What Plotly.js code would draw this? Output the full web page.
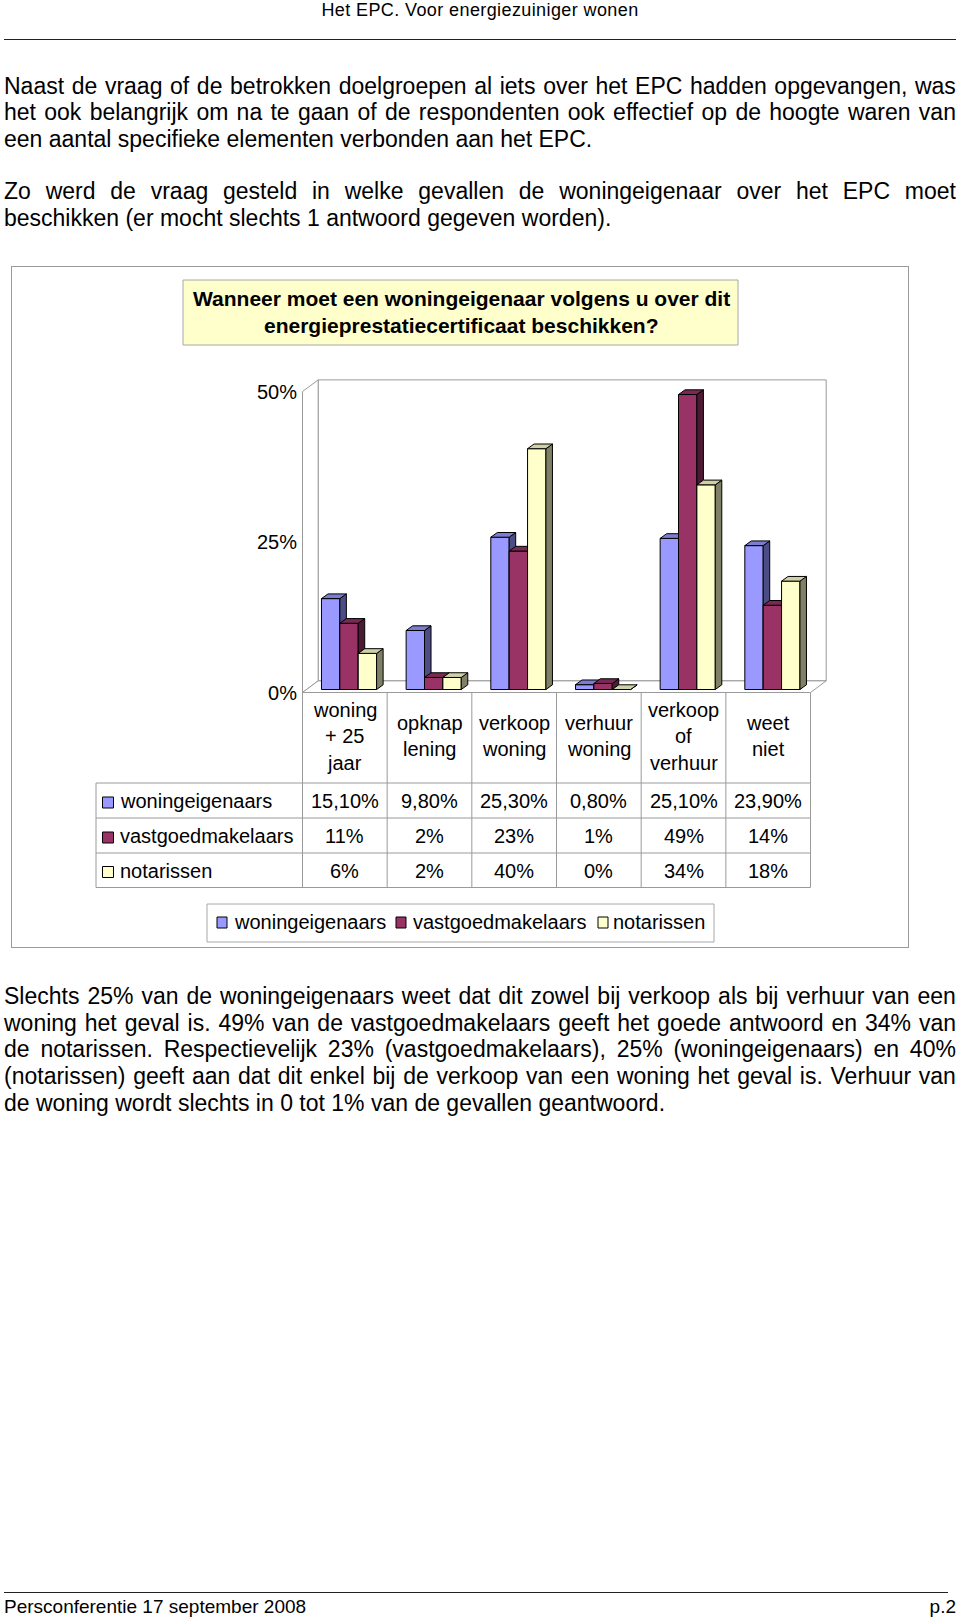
<!DOCTYPE html>
<html>
<head>
<meta charset="utf-8">
<script src="https://cdn.plot.ly/plotly-3.0.1.min.js"></script>
<style>
  html, body { margin: 0; padding: 0; background: #ffffff; }
  body { font-family: "Liberation Sans", Arial, Helvetica, sans-serif; color: #000; }
  #page { position: relative; width: 960px; height: 1622px; overflow: hidden; background: #fff; }
  .hdr { position: absolute; left: 0; top: 0; width: 960px; height: 20px; line-height: 20px; text-align: center; font-size: 18px; letter-spacing: 0.4px; }
  .rule { position: absolute; height: 0; border-top: 1px solid #222; }
  .line { position: absolute; left: 4px; width: 952px; height: 27px; line-height: 27px; font-size: 23px; white-space: nowrap; }
  .just { display: flex; justify-content: space-between; }
  .foot { position: absolute; top: 1596px; height: 22px; line-height: 22px; font-size: 19px; white-space: nowrap; }
  #frame { position: absolute; left: 11px; top: 266px; width: 896px; height: 680px; border: 1px solid #9a9a9a; }
  #chart { position: absolute; left: 11px; top: 266px; width: 898px; height: 682px; }
</style>
</head>
<body>
<div id="page">
  <div class="hdr">Het EPC. Voor energiezuiniger wonen</div>
  <div class="rule" style="left:4px;width:952px;top:39px;"></div>
  <div id="text"></div>
  <div id="frame"></div>
  <div id="chart"></div>
  <div class="rule" style="left:4px;width:944px;top:1592px;"></div>
  <div class="foot" style="left:4px;">Persconferentie 17 september 2008</div>
  <div class="foot" style="right:4px;">p.2</div>
</div>
<script>
// ---------------- data ----------------
const categories = [["woning", "+ 25", "jaar"], ["opknap", "lening"], ["verkoop", "woning"], ["verhuur", "woning"], ["verkoop", "of", "verhuur"], ["weet", "niet"]];
const seriesNames = ["woningeigenaars", "vastgoedmakelaars", "notarissen"];
const woningeigenaars = [15.1, 9.8, 25.3, 0.8, 25.1, 23.9];
const vastgoedmakelaars = [11, 2, 23, 1, 49, 14];
const notarissen = [6, 2, 40, 0, 34, 18];
const tableDecimals = [2, 0, 0];
const yTickValues = [0, 25, 50];
const chartTitleLines = ["Wanneer moet een woningeigenaar volgens u over dit", "energieprestatiecertificaat beschikken?"];

// ---------------- page text ----------------
const paragraphs = [
  { centers: [86, 112, 139], lines: [
    "Naast de vraag of de betrokken doelgroepen al iets over het EPC hadden opgevangen, was",
    "het ook belangrijk om na te gaan of de respondenten ook effectief op de hoogte waren van",
    "een aantal specifieke elementen verbonden aan het EPC."] },
  { centers: [191, 218], lines: [
    "Zo werd de vraag gesteld in welke gevallen de woningeigenaar over het EPC moet",
    "beschikken (er mocht slechts 1 antwoord gegeven worden)."] },
  { centers: [996, 1023, 1049, 1076, 1103], lines: [
    "Slechts 25% van de woningeigenaars weet dat dit zowel bij verkoop als bij verhuur van een",
    "woning het geval is. 49% van de vastgoedmakelaars geeft het goede antwoord en 34% van",
    "de notarissen. Respectievelijk 23% (vastgoedmakelaars), 25% (woningeigenaars) en 40%",
    "(notarissen) geeft aan dat dit enkel bij de verkoop van een woning het geval is. Verhuur van",
    "de woning wordt slechts in 0 tot 1% van de gevallen geantwoord."] }
];
const textHost = document.getElementById('text');
paragraphs.forEach(p => {
  p.lines.forEach((ln, k) => {
    const d = document.createElement('div');
    d.className = 'line';
    d.style.top = (p.centers[k] - 13.5) + 'px';
    if (k < p.lines.length - 1) {
      d.classList.add('just');
      ln.split(' ').forEach(w => { const s = document.createElement('span'); s.textContent = w; d.appendChild(s); });
    } else {
      d.textContent = ln;
    }
    textHost.appendChild(d);
  });
});

// ---------------- chart geometry ----------------
const DIV_LEFT = 11, DIV_TOP = 266, DIV_W = 898, DIV_H = 682;
const PLOT_L = 298, PLOT_R = 836, PLOT_T = 374, PLOT_B = 696;
const X0_PX = 302.5, PX_PER_CAT = 84.67, Y0_PX = 689.5, PX_PER_PCT = 6.02;
const xr = [-0.5 - (X0_PX - PLOT_L) / PX_PER_CAT, -0.5 + (PLOT_R - X0_PX) / PX_PER_CAT];
const yr = [-(PLOT_B - Y0_PX) / PX_PER_PCT, (Y0_PX - PLOT_T) / PX_PER_PCT];
const px = X => (X - PLOT_L) / (PLOT_R - PLOT_L);
const py = Y => (PLOT_B - Y) / (PLOT_B - PLOT_T);

const BAR_W = 0.217;
const BAR_OFF = [-0.276, -0.059, 0.158];
const BAR_DX = 0.077, BAR_DY = 0.78;
const WALL_DX = 0.185, WALL_DY = 1.93;
const FRONT_DROP = 0.5;

const FRONT = ['#9999FF', '#993366', '#FFFFCC'];
const TOPC = ['#7C7CD0', '#7A2952', '#D0D0A6'];
const SIDE = ['#4D4D85', '#4D1A33', '#808066'];
const GRID = '#9a9a9a';
const FONT = 'Liberation Sans, Arial, sans-serif';
const txtFont = (size) => ({ family: FONT, size: size, color: '#000' });

const seriesValues = [woningeigenaars, vastgoedmakelaars, notarissen];
const idx = categories.map((c, i) => i);
const nCat = categories.length;

const traces = [];
seriesValues.forEach((vals, s) => {
  const xa = s === 0 ? 'x' : 'x' + (s + 1);
  const ya = s === 0 ? 'y' : 'y' + (s + 1);
  traces.push({
    type: 'bar', x: idx, y: vals, base: 0, width: BAR_W, offset: BAR_OFF[s],
    name: seriesNames[s], xaxis: xa, yaxis: ya,
    marker: { color: FRONT[s], line: { color: '#000', width: 1 } },
    hoverinfo: 'skip', showlegend: false
  });
  const sx = [], sy = [], tx = [], ty = [];
  vals.forEach((v, i) => {
    const x0 = i + BAR_OFF[s], x1 = x0 + BAR_W;
    sx.push(x1, x1 + BAR_DX, x1 + BAR_DX, x1, x1, null);
    sy.push(0, BAR_DY, v + BAR_DY, v, 0, null);
    tx.push(x0, x1, x1 + BAR_DX, x0 + BAR_DX, x0, null);
    ty.push(v, v, v + BAR_DY, v + BAR_DY, v, null);
  });
  traces.push({ type: 'scatter', mode: 'lines', x: sx, y: sy, fill: 'toself', fillcolor: SIDE[s],
    line: { color: '#000', width: 1 }, xaxis: xa, yaxis: ya, showlegend: false, hoverinfo: 'skip' });
  traces.push({ type: 'scatter', mode: 'lines', x: tx, y: ty, fill: 'toself', fillcolor: TOPC[s],
    line: { color: '#000', width: 1 }, xaxis: xa, yaxis: ya, showlegend: false, hoverinfo: 'skip' });
});

// walls & floor
const xl = -0.5, xrgt = nCat - 0.5, yb = -FRONT_DROP, ytop = yTickValues[yTickValues.length - 1] - FRONT_DROP;
const shapes = [
  { type: 'path', xref: 'x', yref: 'y', layer: 'below', fillcolor: '#fff', line: { color: GRID, width: 1 },
    path: `M${xl + WALL_DX},${yb + WALL_DY} L${xrgt + WALL_DX},${yb + WALL_DY} L${xrgt + WALL_DX},${ytop + WALL_DY} L${xl + WALL_DX},${ytop + WALL_DY} Z` },
  { type: 'path', xref: 'x', yref: 'y', layer: 'below', fillcolor: '#fff', line: { color: GRID, width: 1 },
    path: `M${xl},${yb} L${xl},${ytop} L${xl + WALL_DX},${ytop + WALL_DY} L${xl + WALL_DX},${yb + WALL_DY} Z` },
  { type: 'path', xref: 'x', yref: 'y', layer: 'below', fillcolor: '#fff', line: { color: GRID, width: 1 },
    path: `M${xl},${yb} L${xrgt},${yb} L${xrgt + WALL_DX},${yb + WALL_DY} L${xl + WALL_DX},${yb + WALL_DY} Z` }
];

// table geometry (page px)
const TABLE_LEFT = 96, ROW_LINES = [783, 818, 853, 887.5], ROW_CENTERS = [801, 836, 870.5];
const HEADER_CENTER = 736, HEADER_PITCH = 26.5, FLOOR_FRONT = Y0_PX + FRONT_DROP * PX_PER_PCT;
const annotations = [];
for (let b = 0; b <= nCat; b++) {
  shapes.push({ type: 'line', xref: 'x', yref: 'paper', x0: b - 0.5, x1: b - 0.5,
    y0: py(FLOOR_FRONT), y1: py(ROW_LINES[ROW_LINES.length - 1]), line: { color: GRID, width: 1 } });
}
ROW_LINES.forEach(Y => shapes.push({ type: 'line', xref: 'paper', yref: 'paper',
  x0: px(TABLE_LEFT), x1: px(X0_PX + nCat * PX_PER_CAT), y0: py(Y), y1: py(Y), line: { color: GRID, width: 1 } }));
shapes.push({ type: 'line', xref: 'paper', yref: 'paper', x0: px(TABLE_LEFT), x1: px(TABLE_LEFT),
  y0: py(ROW_LINES[0]), y1: py(ROW_LINES[ROW_LINES.length - 1]), line: { color: GRID, width: 1 } });

categories.forEach((c, i) => c.forEach((part, k) => annotations.push({ xref: 'x', yref: 'paper', x: i,
  y: py(HEADER_CENTER + (k - (c.length - 1) / 2) * HEADER_PITCH),
  text: part, showarrow: false, xanchor: 'center', yanchor: 'middle', align: 'center',
  font: txtFont(20) })));

seriesValues.forEach((vals, s) => {
  const yc = ROW_CENTERS[s];
  shapes.push({ type: 'rect', xref: 'paper', yref: 'paper', x0: px(102.5), x1: px(113.5), y0: py(yc + 7), y1: py(yc - 4),
    fillcolor: FRONT[s], line: { color: '#000', width: 1 } });
  annotations.push({ xref: 'paper', yref: 'paper', x: px(118), y: py(yc), text: seriesNames[s], showarrow: false,
    xanchor: 'left', yanchor: 'middle', font: txtFont(20) });
  vals.forEach((v, i) => annotations.push({ xref: 'x', yref: 'paper', x: i, y: py(yc),
    text: v.toFixed(tableDecimals[s]).replace('.', ',') + '%', showarrow: false, xanchor: 'center', yanchor: 'middle',
    font: txtFont(20) }));
});

// legend box (drawn below the table)
const LEG = { left: 207, right: 714, top: 904, bottom: 942, center: 922.5, squares: [217, 396, 598], texts: [232, 411, 611] };
shapes.push({ type: 'rect', xref: 'paper', yref: 'paper', x0: px(LEG.left), x1: px(LEG.right), y0: py(LEG.bottom), y1: py(LEG.top),
  fillcolor: '#fff', line: { color: '#a8a8a8', width: 1 } });
seriesNames.forEach((nm, s) => {
  shapes.push({ type: 'rect', xref: 'paper', yref: 'paper', x0: px(LEG.squares[s]), x1: px(LEG.squares[s] + 10),
    y0: py(LEG.center + 5.5), y1: py(LEG.center - 5.5), fillcolor: FRONT[s], line: { color: '#000', width: 1 } });
  annotations.push({ xref: 'paper', yref: 'paper', x: px(LEG.texts[s]), y: py(LEG.center - 1), text: nm, showarrow: false,
    xanchor: 'left', yanchor: 'middle', font: txtFont(20) });
});

// title box
shapes.push({ type: 'rect', xref: 'paper', yref: 'paper', x0: px(183), x1: px(738), y0: py(345), y1: py(280),
  fillcolor: '#FFFFCC', line: { color: '#a8a8a8', width: 1 } });
const TITLE_CENTERS = [298, 325];
chartTitleLines.forEach((t, k) => annotations.push({ xref: 'paper', yref: 'paper', x: px(461), y: py(TITLE_CENTERS[k]),
  text: '<b>' + t + '</b>', showarrow: false, xanchor: 'center', yanchor: 'middle', align: 'center',
  font: txtFont(21) }));

const hiddenAxis = (over, anchor, range) => ({ overlaying: over, anchor: anchor, range: range, visible: false, fixedrange: true });

const layout = {
  width: DIV_W, height: DIV_H,
  margin: { l: PLOT_L - DIV_LEFT, r: DIV_LEFT + DIV_W - PLOT_R, t: PLOT_T - DIV_TOP, b: DIV_TOP + DIV_H - PLOT_B, pad: 0 },
  paper_bgcolor: 'rgba(0,0,0,0)', plot_bgcolor: 'rgba(0,0,0,0)',
  showlegend: false,
  xaxis: { range: xr, showgrid: false, zeroline: false, showline: false, showticklabels: false, ticks: '', fixedrange: true },
  yaxis: { range: yr, showgrid: false, zeroline: false, showline: false, ticks: '',
    tickvals: yTickValues.map(v => v - FRONT_DROP), ticktext: yTickValues.map(v => v + '%'),
    tickfont: txtFont(20), fixedrange: true },
  xaxis2: hiddenAxis('x', 'y2', xr), yaxis2: hiddenAxis('y', 'x2', yr),
  xaxis3: hiddenAxis('x', 'y3', xr), yaxis3: hiddenAxis('y', 'x3', yr),
  shapes: shapes, annotations: annotations,
  font: { family: FONT, color: '#000' }
};

Plotly.newPlot('chart', traces, layout, { staticPlot: true, displayModeBar: false });
</script>
</body>
</html>
